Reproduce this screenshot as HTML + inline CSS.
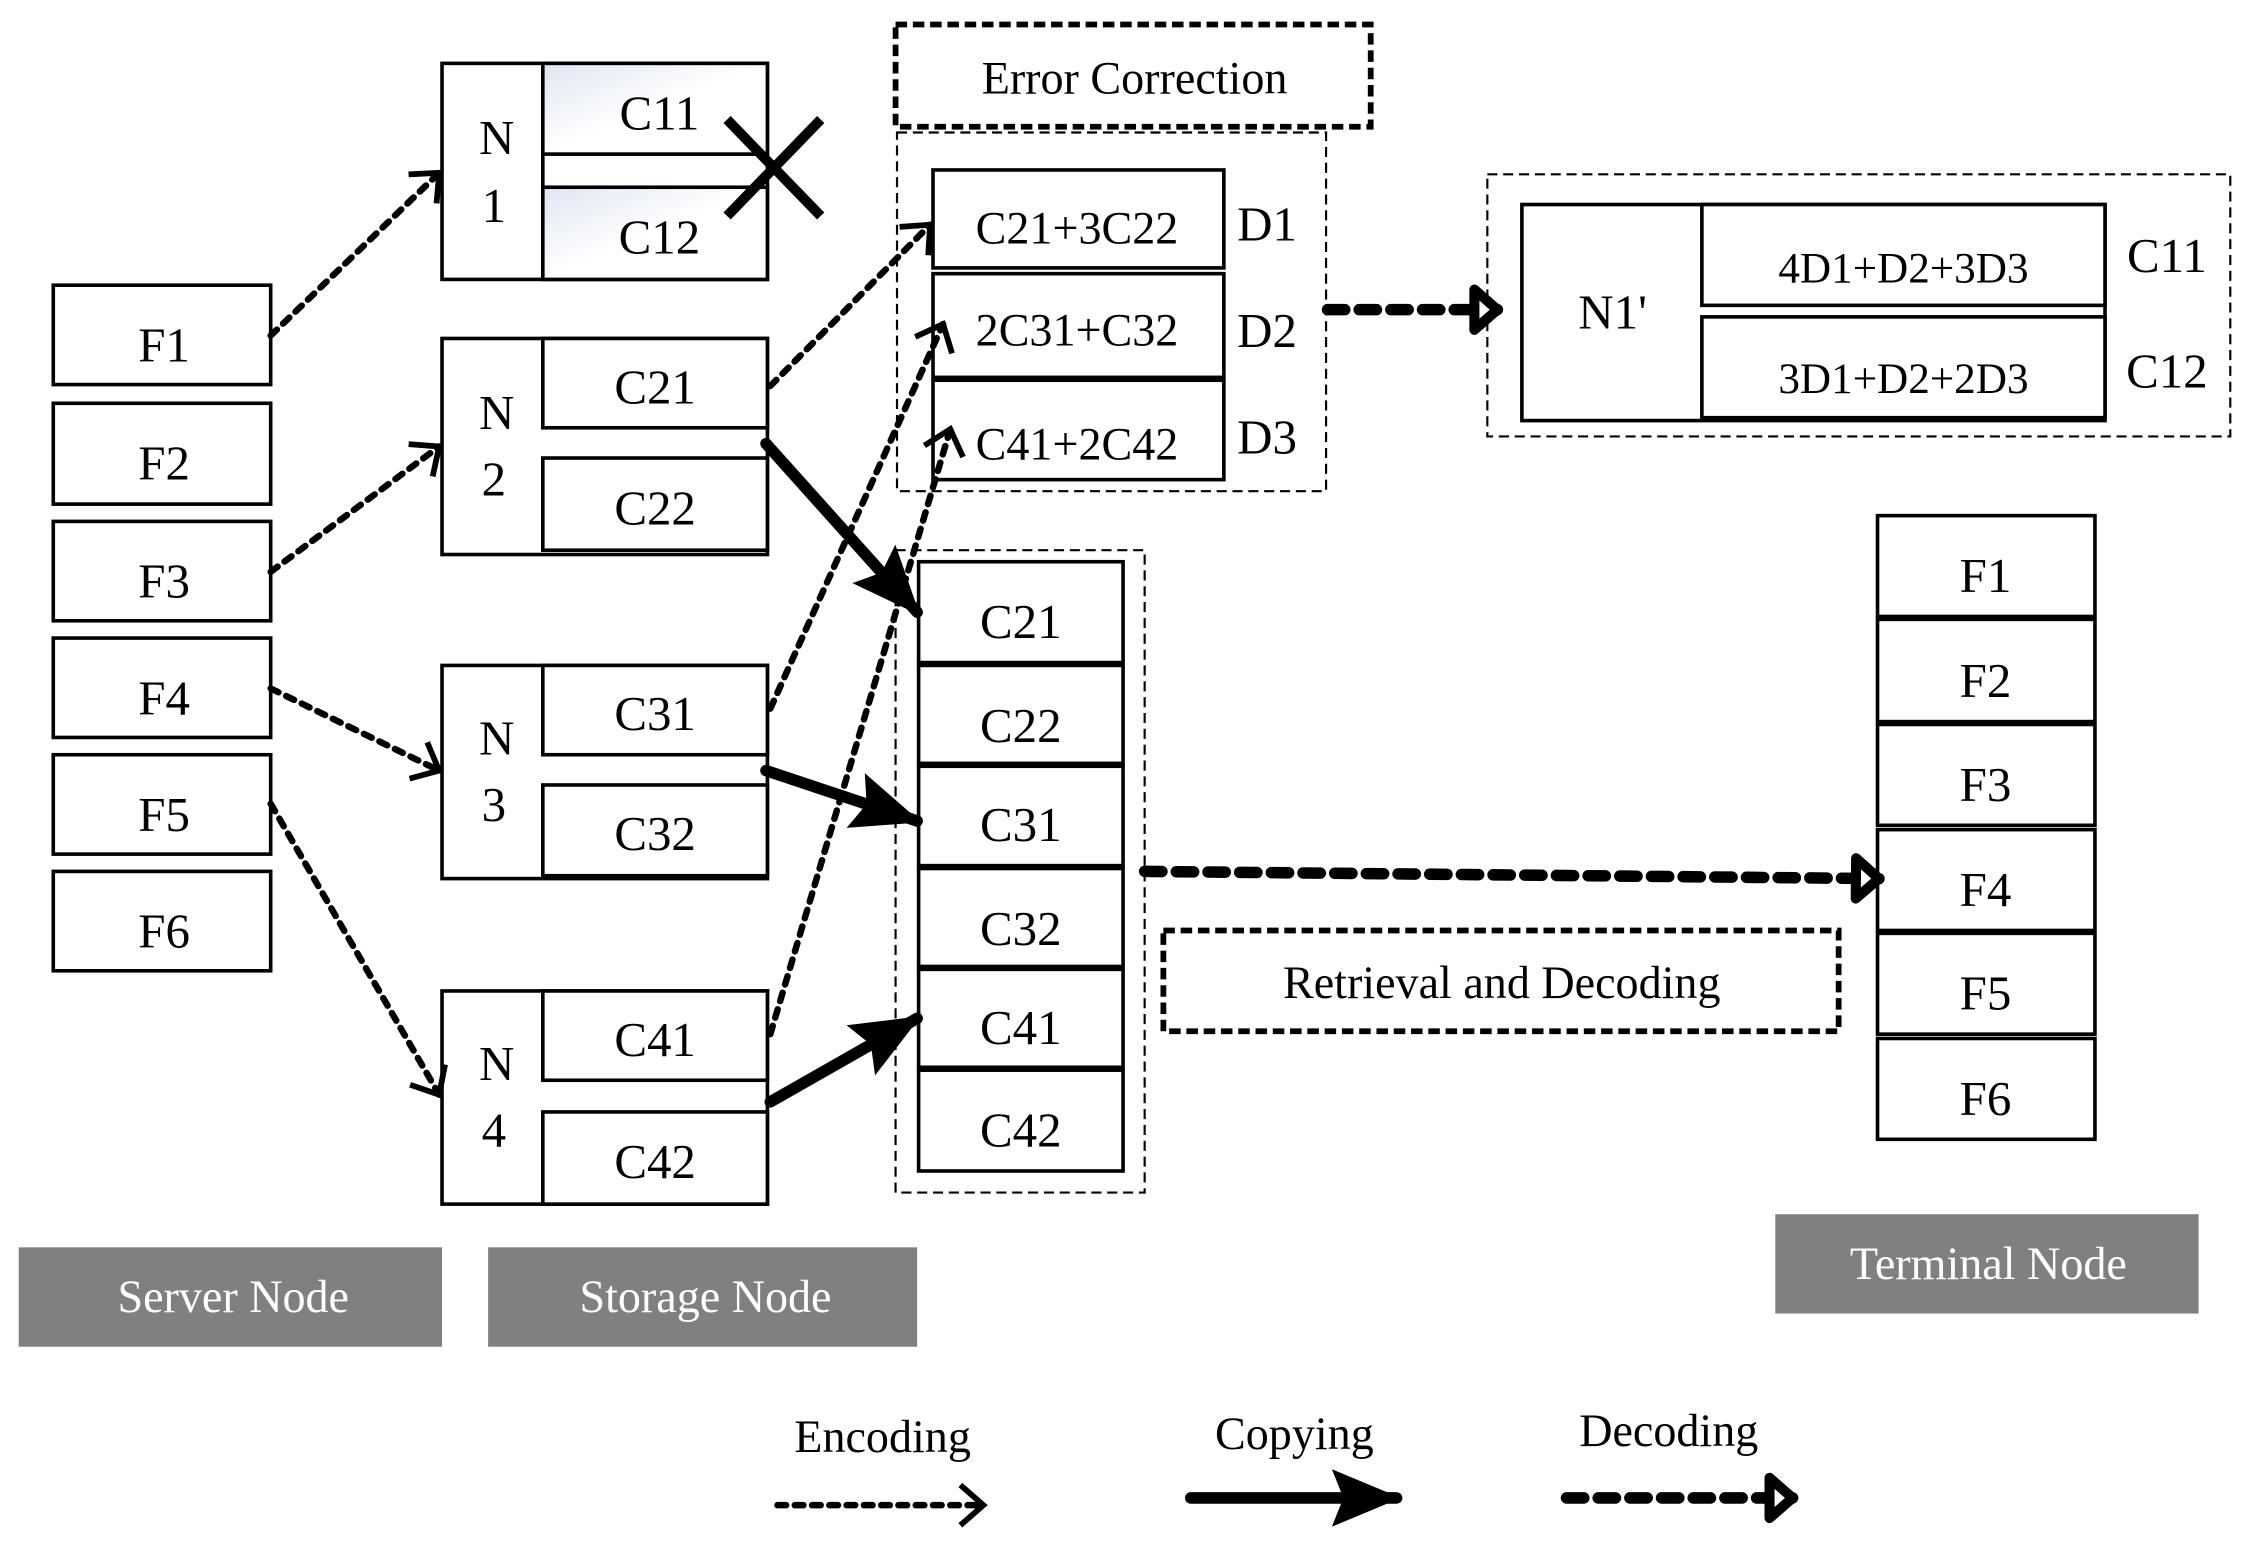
<!DOCTYPE html>
<html><head><meta charset="utf-8"><style>
html,body{margin:0;padding:0;background:#fff}
svg{display:block}
text{font-family:"Liberation Serif",serif;fill:#000}
</style></head><body>
<svg width="2249" height="1557" viewBox="0 0 1562 1081" preserveAspectRatio="none" xmlns="http://www.w3.org/2000/svg">
<defs>
<linearGradient id="g" x1="0" y1="0" x2="1" y2="1"><stop offset="0" stop-color="#dfe6f2"/><stop offset="0.5" stop-color="#fff"/></linearGradient>
<marker id="enc" markerUnits="userSpaceOnUse" markerWidth="40" markerHeight="40" refX="20" refY="20" orient="auto" viewBox="0 0 40 40">
<polyline points="4,6 20,20 4,34" fill="none" stroke="#000" stroke-width="4"/></marker>
<marker id="cp" markerUnits="userSpaceOnUse" markerWidth="50" markerHeight="50" refX="45" refY="25" orient="auto" viewBox="0 0 50 50">
<polygon points="0,5 48,25 0,45 8,25" fill="#000"/></marker>
<marker id="dec" markerUnits="userSpaceOnUse" markerWidth="40" markerHeight="40" refX="30" refY="20" orient="auto" viewBox="0 0 40 40">
<polygon points="14,6 30,20 14,34" fill="#fff" stroke="#000" stroke-width="7" stroke-linejoin="round"/></marker>
</defs>
<g fill="#fff" stroke="#000" stroke-width="2.5">
<rect x="37" y="198" width="151" height="69"/><rect x="37" y="280" width="151" height="70"/>
<rect x="37" y="362" width="151" height="69"/><rect x="37" y="443" width="151" height="69"/>
<rect x="37" y="524" width="151" height="69"/><rect x="37" y="605" width="151" height="69"/>
<rect x="307" y="44" width="226" height="150"/><line x1="377" y1="44" x2="377" y2="194"/>
<rect x="377" y="44" width="156" height="63" fill="url(#g)"/><rect x="377" y="130" width="156" height="64" fill="url(#g)"/>
<rect x="307" y="235" width="226" height="150"/><rect x="377" y="235" width="156" height="62"/><rect x="377" y="318" width="156" height="64"/>
<rect x="307" y="462" width="226" height="148"/><rect x="377" y="462" width="156" height="62"/><rect x="377" y="545" width="156" height="63"/>
<rect x="307" y="688" width="226" height="148"/><rect x="377" y="688" width="156" height="62"/><rect x="377" y="772" width="156" height="64"/>
<rect x="648" y="118" width="202" height="68"/><rect x="648" y="190" width="202" height="72"/><rect x="648" y="264" width="202" height="69"/>
<rect x="638" y="390" width="142" height="70"/><rect x="638" y="462" width="142" height="68"/><rect x="638" y="532" width="142" height="69"/>
<rect x="638" y="603" width="142" height="68"/><rect x="638" y="673" width="142" height="68"/><rect x="638" y="743" width="142" height="70"/>
<rect x="1057" y="142" width="405" height="150"/><rect x="1182" y="142" width="280" height="70"/><rect x="1182" y="220" width="280" height="70"/>
<rect x="1304" y="358" width="151" height="70"/><rect x="1304" y="430" width="151" height="71"/><rect x="1304" y="503" width="151" height="70"/>
<rect x="1304" y="576" width="151" height="70"/><rect x="1304" y="648" width="151" height="70"/><rect x="1304" y="721" width="151" height="70"/>
</g>
<g fill="none" stroke="#000">
<rect x="622" y="17" width="330" height="71" stroke-width="4" stroke-dasharray="8,4"/>
<rect x="808" y="646" width="469" height="70" stroke-width="4" stroke-dasharray="8,4"/>
<rect x="623" y="92" width="298" height="249" stroke-width="1.5" stroke-dasharray="7,4"/>
<rect x="622" y="382" width="173" height="446" stroke-width="1.5" stroke-dasharray="7,4"/>
<rect x="1033" y="121" width="516" height="182" stroke-width="1.5" stroke-dasharray="7,4"/>
<line x1="505" y1="83" x2="570" y2="150" stroke-width="7"/><line x1="570" y1="83" x2="505" y2="150" stroke-width="7"/>
</g>
<g fill="none" stroke="#000" stroke-width="4.5" stroke-dasharray="6,6" stroke-linecap="round" marker-end="url(#enc)">
<line x1="188" y1="233" x2="305" y2="120"/><line x1="188" y1="397" x2="305" y2="310"/>
<line x1="188" y1="478" x2="305" y2="535"/><line x1="188" y1="558" x2="305" y2="760"/>
<line x1="535" y1="268" x2="646" y2="156"/><line x1="535" y1="492" x2="655" y2="225"/>
<line x1="535" y1="718" x2="660" y2="298"/>
<line x1="540" y1="1045" x2="683" y2="1045"/>
</g>
<g stroke="#000" stroke-width="8" stroke-linecap="round" marker-end="url(#cp)">
<line x1="532" y1="308" x2="637" y2="425"/><line x1="532" y1="535" x2="637" y2="570"/>
<line x1="535" y1="765" x2="637" y2="707"/><line x1="827" y1="1040" x2="970" y2="1040"/>
</g>
<g fill="none" stroke="#000" stroke-width="8" stroke-dasharray="12,10" stroke-linecap="round" marker-end="url(#dec)">
<line x1="922" y1="215" x2="1040" y2="215"/><line x1="795" y1="605" x2="1305" y2="610"/>
<line x1="1088" y1="1040" x2="1245" y2="1040"/>
</g>
<g fill="#808080"><rect x="13" y="866" width="294" height="69"/><rect x="339" y="866" width="298" height="69"/><rect x="1233" y="843" width="294" height="69"/></g>
<g font-size="34" text-anchor="middle">
<text x="114" y="251">F1</text><text x="114" y="333">F2</text><text x="114" y="415">F3</text>
<text x="114" y="496">F4</text><text x="114" y="577">F5</text><text x="114" y="658">F6</text>
<text x="345" y="107">N</text><text x="343" y="154">1</text>
<text x="345" y="298">N</text><text x="343" y="344">2</text>
<text x="345" y="524">N</text><text x="343" y="570">3</text>
<text x="345" y="750">N</text><text x="343" y="796">4</text>
<text x="458" y="90">C11</text><text x="458" y="176">C12</text>
<text x="455" y="280">C21</text><text x="455" y="364">C22</text>
<text x="455" y="507">C31</text><text x="455" y="590">C32</text>
<text x="455" y="733">C41</text><text x="455" y="818">C42</text>
<text x="709" y="443">C21</text><text x="709" y="515">C22</text><text x="709" y="584">C31</text>
<text x="709" y="656">C32</text><text x="709" y="725">C41</text><text x="709" y="796">C42</text>
<text x="1379" y="411">F1</text><text x="1379" y="484">F2</text><text x="1379" y="556">F3</text>
<text x="1379" y="629">F4</text><text x="1379" y="701">F5</text><text x="1379" y="774">F6</text>
<text x="748" y="169" font-size="32">C21+3C22</text><text x="748" y="240" font-size="32">2C31+C32</text><text x="748" y="319" font-size="32">C41+2C42</text>
<text x="880" y="167">D1</text><text x="880" y="241">D2</text><text x="880" y="315">D3</text>
<text x="1322" y="196" font-size="30">4D1+D2+3D3</text><text x="1322" y="273" font-size="30">3D1+D2+2D3</text>
<text x="1120" y="228">N1'</text><text x="1505" y="189">C11</text><text x="1505" y="269">C12</text>
<text x="788" y="65" font-size="32">Error Correction</text>
<text x="1043" y="693" font-size="32">Retrieval and Decoding</text>
<text x="613" y="1008" font-size="32">Encoding</text><text x="899" y="1006" font-size="32">Copying</text><text x="1159" y="1004" font-size="32">Decoding</text>
<g font-size="32"><text x="162" y="911" style="fill:#fff">Server Node</text><text x="490" y="911" style="fill:#fff">Storage Node</text><text x="1381" y="888" style="fill:#fff">Terminal Node</text></g>
</g>
</svg>
</body></html>
